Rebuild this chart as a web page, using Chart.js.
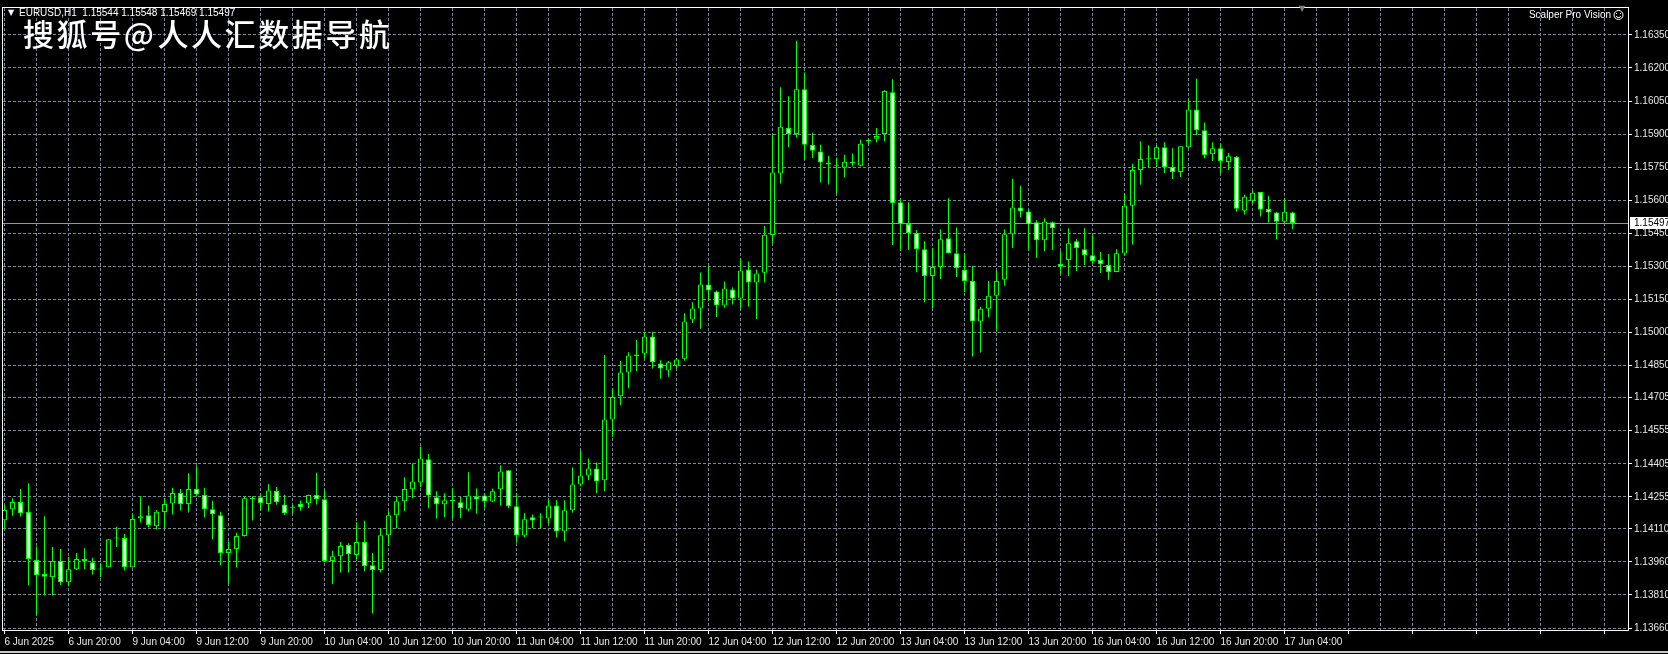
<!DOCTYPE html>
<html>
<head>
<meta charset="utf-8">
<script src="https://cdn.jsdelivr.net/npm/chart.js@4.4.1/dist/chart.umd.min.js"></script>
<style>
  html, body { margin: 0; padding: 0; background: #000; }
  canvas { display: block; }
</style>
</head>
<body>
<canvas id="chart" width="1668" height="654"></canvas>
<script>
// header texts
const symbolTitle = 'EURUSD,H1  1.15544 1.15548 1.15469 1.15497';
const watermark = '搜狐号@人人汇数据导航';
const indicatorName = 'Scalper Pro Vision';
const lastPrice = 1.15497;

// x labels, one every 8 bars (H1)
const timeLabels = ['6 Jun 2025', '6 Jun 20:00', '9 Jun 04:00', '9 Jun 12:00', '9 Jun 20:00',
  '10 Jun 04:00', '10 Jun 12:00', '10 Jun 20:00', '11 Jun 04:00', '11 Jun 12:00', '11 Jun 20:00',
  '12 Jun 04:00', '12 Jun 12:00', '12 Jun 20:00', '13 Jun 04:00', '13 Jun 12:00', '13 Jun 20:00',
  '16 Jun 04:00', '16 Jun 12:00', '16 Jun 20:00', '17 Jun 04:00'];

// price scale labels
const priceTicks = [1.13660, 1.13810, 1.13960, 1.14110, 1.14255, 1.14405, 1.14555, 1.14705,
  1.14850, 1.15000, 1.15150, 1.15300, 1.15450, 1.15600, 1.15750, 1.15900, 1.16050, 1.16200, 1.16350];

// OHLC
const opens = [
  1.14149, 1.14199, 1.14231, 1.14186, 1.13968, 1.13905, 1.13891, 1.13964, 1.13868, 1.13926,
  1.13973, 1.13958, 1.13928, 1.13936, 1.14066, 1.14068, 1.13936, 1.14157, 1.14172, 1.14121,
  1.14186, 1.14225, 1.14272, 1.14222, 1.14290, 1.14263, 1.14199, 1.14172, 1.14000, 1.14018,
  1.14077, 1.14247, 1.14253, 1.14222, 1.14281, 1.14220, 1.14208, 1.14222, 1.14226, 1.14263,
  1.14244, 1.13964, 1.13986, 1.14036, 1.13991, 1.14050, 1.13945, 1.13923, 1.14081, 1.14172,
  1.14235, 1.14289, 1.14320, 1.14425, 1.14253, 1.14221, 1.14238, 1.14230, 1.14198, 1.14257,
  1.14261, 1.14234, 1.14289, 1.14375, 1.14212, 1.14080, 1.14162, 1.14161, 1.14157, 1.14216,
  1.14098, 1.14194, 1.14311, 1.14352, 1.14384, 1.14330, 1.14606, 1.14711, 1.14819, 1.14893,
  1.14905, 1.14982, 1.14860, 1.14828, 1.14851, 1.14881, 1.15059, 1.15109, 1.15218, 1.15186,
  1.15123, 1.15195, 1.15155, 1.15286, 1.15227, 1.15271, 1.15443, 1.15721, 1.15929, 1.15901,
  1.16104, 1.15852, 1.15821, 1.15771, 1.15758, 1.15748, 1.15775, 1.15757, 1.15874, 1.15879,
  1.15901, 1.16090, 1.15591, 1.15492, 1.15451, 1.15378, 1.15257, 1.15297, 1.15428, 1.15360,
  1.15284, 1.15234, 1.15050, 1.15108, 1.15167, 1.15239, 1.15446, 1.15567, 1.15549, 1.15500,
  1.15419, 1.15500, 1.15311, 1.15329, 1.15414, 1.15378, 1.15351, 1.15329, 1.15306, 1.15275,
  1.15358, 1.15575, 1.15737, 1.15786, 1.15787, 1.15841, 1.15751, 1.15728, 1.15841, 1.16012,
  1.15917, 1.15809, 1.15836, 1.15773, 1.15796, 1.15553, 1.15598, 1.15638, 1.15562, 1.15544,
  1.15503, 1.15544];
const highs = [
  1.14219, 1.14249, 1.14290, 1.14317, 1.14030, 1.14167, 1.14027, 1.14018, 1.13982, 1.14000,
  1.14022, 1.13979, 1.13950, 1.14064, 1.14119, 1.14086, 1.14176, 1.14258, 1.14214, 1.14195,
  1.14247, 1.14296, 1.14290, 1.14362, 1.14394, 1.14296, 1.14237, 1.14187, 1.14053, 1.14092,
  1.14258, 1.14258, 1.14267, 1.14312, 1.14299, 1.14264, 1.14219, 1.14238, 1.14264, 1.14364,
  1.14287, 1.14010, 1.14050, 1.14045, 1.14140, 1.14146, 1.14000, 1.14113, 1.14190, 1.14258,
  1.14344, 1.14406, 1.14483, 1.14449, 1.14280, 1.14271, 1.14293, 1.14255, 1.14366, 1.14293,
  1.14271, 1.14293, 1.14397, 1.14377, 1.14271, 1.14180, 1.14175, 1.14180, 1.14243, 1.14239,
  1.14239, 1.14388, 1.14465, 1.14429, 1.14411, 1.14898, 1.14745, 1.14871, 1.14911, 1.14966,
  1.15004, 1.15004, 1.14874, 1.14871, 1.14884, 1.15088, 1.15138, 1.15272, 1.15302, 1.15191,
  1.15232, 1.15204, 1.15336, 1.15322, 1.15286, 1.15483, 1.15897, 1.16113, 1.16072, 1.16324,
  1.16180, 1.15906, 1.15852, 1.15802, 1.15793, 1.15807, 1.15812, 1.15874, 1.15879, 1.15928,
  1.16099, 1.16149, 1.15604, 1.15591, 1.15465, 1.15414, 1.15383, 1.15468, 1.15609, 1.15477,
  1.15360, 1.15302, 1.15117, 1.15234, 1.15279, 1.15468, 1.15698, 1.15666, 1.15559, 1.15509,
  1.15518, 1.15504, 1.15369, 1.15473, 1.15423, 1.15473, 1.15446, 1.15365, 1.15356, 1.15378,
  1.15631, 1.15766, 1.15868, 1.15850, 1.15850, 1.15863, 1.15836, 1.15845, 1.16057, 1.16151,
  1.15953, 1.15863, 1.15854, 1.15814, 1.15801, 1.15625, 1.15643, 1.15638, 1.15620, 1.15548,
  1.15607, 1.15548];
const lows = [
  1.14109, 1.14169, 1.14166, 1.13853, 1.13719, 1.13808, 1.13808, 1.13855, 1.13849, 1.13923,
  1.13926, 1.13903, 1.13890, 1.13934, 1.14028, 1.13921, 1.13935, 1.14139, 1.14116, 1.14107,
  1.14112, 1.14175, 1.14193, 1.14184, 1.14257, 1.14161, 1.14062, 1.13944, 1.13859, 1.13935,
  1.14075, 1.14148, 1.14192, 1.14189, 1.14219, 1.14173, 1.14181, 1.14192, 1.14204, 1.14220,
  1.13958, 1.13859, 1.13912, 1.13912, 1.13973, 1.13918, 1.13726, 1.13912, 1.14032, 1.14112,
  1.14190, 1.14248, 1.14298, 1.14203, 1.14157, 1.14162, 1.14157, 1.14159, 1.14189, 1.14178,
  1.14206, 1.14230, 1.14215, 1.14203, 1.14048, 1.14071, 1.14112, 1.14112, 1.14130, 1.14070,
  1.14052, 1.14183, 1.14302, 1.14330, 1.14271, 1.14280, 1.14528, 1.14670, 1.14747, 1.14824,
  1.14881, 1.14837, 1.14791, 1.14800, 1.14836, 1.14872, 1.15043, 1.15017, 1.15145, 1.15071,
  1.15112, 1.15127, 1.15109, 1.15117, 1.15062, 1.15227, 1.15405, 1.15676, 1.15841, 1.15883,
  1.15784, 1.15792, 1.15681, 1.15672, 1.15631, 1.15703, 1.15753, 1.15753, 1.15852, 1.15863,
  1.15866, 1.15397, 1.15370, 1.15375, 1.15274, 1.15138, 1.15111, 1.15243, 1.15358, 1.15252,
  1.15183, 1.14891, 1.14910, 1.15068, 1.15005, 1.15212, 1.15383, 1.15522, 1.15374, 1.15338,
  1.15369, 1.15374, 1.15266, 1.15257, 1.15279, 1.15306, 1.15311, 1.15270, 1.15239, 1.15273,
  1.15348, 1.15398, 1.15670, 1.15751, 1.15751, 1.15724, 1.15697, 1.15706, 1.15837, 1.15895,
  1.15791, 1.15778, 1.15724, 1.15737, 1.15548, 1.15535, 1.15584, 1.15526, 1.15499, 1.15422,
  1.15494, 1.15469];
const closes = [
  1.14195, 1.14231, 1.14181, 1.13973, 1.13900, 1.13893, 1.13964, 1.13868, 1.13927, 1.13973,
  1.13964, 1.13923, 1.13925, 1.14063, 1.14069, 1.13936, 1.14154, 1.14167, 1.14127, 1.14187,
  1.14222, 1.14272, 1.14222, 1.14290, 1.14266, 1.14199, 1.14176, 1.14000, 1.14018, 1.14077,
  1.14249, 1.14245, 1.14226, 1.14284, 1.14231, 1.14181, 1.14206, 1.14208, 1.14263, 1.14244,
  1.13964, 1.13986, 1.14032, 1.13995, 1.14050, 1.13941, 1.13923, 1.14081, 1.14172, 1.14235,
  1.14290, 1.14325, 1.14429, 1.14261, 1.14221, 1.14239, 1.14236, 1.14203, 1.14261, 1.14243,
  1.14234, 1.14280, 1.14370, 1.14212, 1.14080, 1.14153, 1.14148, 1.14163, 1.14216, 1.14098,
  1.14194, 1.14311, 1.14352, 1.14384, 1.14325, 1.14606, 1.14708, 1.14819, 1.14896, 1.14900,
  1.14982, 1.14865, 1.14837, 1.14865, 1.14878, 1.15050, 1.15109, 1.15218, 1.15191, 1.15123,
  1.15200, 1.15155, 1.15281, 1.15227, 1.15268, 1.15444, 1.15726, 1.15933, 1.15901, 1.16104,
  1.15852, 1.15825, 1.15771, 1.15762, 1.15756, 1.15775, 1.15767, 1.15856, 1.15866, 1.15892,
  1.16095, 1.15586, 1.15492, 1.15451, 1.15379, 1.15257, 1.15297, 1.15423, 1.15360, 1.15293,
  1.15234, 1.15050, 1.15108, 1.15167, 1.15234, 1.15446, 1.15567, 1.15549, 1.15491, 1.15419,
  1.15504, 1.15473, 1.15298, 1.15405, 1.15383, 1.15351, 1.15324, 1.15311, 1.15275, 1.15360,
  1.15575, 1.15737, 1.15787, 1.15788, 1.15841, 1.15751, 1.15728, 1.15845, 1.16012, 1.15917,
  1.15805, 1.15836, 1.15778, 1.15800, 1.15562, 1.15616, 1.15634, 1.15557, 1.15544, 1.15503,
  1.15548, 1.15497];

const lime = '#00ff00';
const gridColor = '#7a8899';
const labelFont = { family: 'Liberation Sans', size: 10 };

const wickData = lows.map((lo, i) => ({ x: i, y: [lo, highs[i]] }));
const bodyData = opens.map((o, i) => ({ x: i, y: [o, closes[i]] }));
const bodyFill = opens.map((o, i) => (closes[i] < o ? '#ffffff' : '#000000'));

const mt4Decor = {
  id: 'mt4Decor',
  beforeDraw(chart) {
    const ctx = chart.ctx;
    ctx.save();
    ctx.fillStyle = '#000';
    ctx.fillRect(0, 0, chart.width, chart.height);
    ctx.restore();
  },
  beforeDatasetsDraw(chart) {
    const { ctx, chartArea, scales } = chart;
    const y = Math.round(scales.y.getPixelForValue(lastPrice)) + 0.5;
    ctx.save();
    ctx.strokeStyle = '#8c98a4';
    ctx.lineWidth = 1;
    ctx.beginPath();
    ctx.moveTo(chartArea.left, y);
    ctx.lineTo(chartArea.right, y);
    ctx.stroke();
    ctx.restore();
  },
  afterDraw(chart) {
    const { ctx, chartArea, scales } = chart;
    ctx.save();
    // white frame round the plot
    ctx.strokeStyle = '#ffffff';
    ctx.lineWidth = 1;
    ctx.strokeRect(chartArea.left - 0.5, chartArea.top - 0.5,
      chartArea.right - chartArea.left + 1, chartArea.bottom - chartArea.top + 1);

    // last price box on the scale
    const py = Math.round(scales.y.getPixelForValue(lastPrice));
    ctx.fillStyle = '#ffffff';
    ctx.fillRect(chartArea.right + 2, py - 6, 38, 12);
    ctx.fillStyle = '#000000';
    ctx.font = '10px "Liberation Sans"';
    ctx.textBaseline = 'middle';
    ctx.textAlign = 'left';
    ctx.fillText(lastPrice.toFixed(5), chartArea.right + 6, py);

    // symbol line
    ctx.fillStyle = '#ffffff';
    ctx.font = '8px "DejaVu Sans"';
    ctx.fillText('▼', 8, 13);
    ctx.font = '10px "Liberation Sans"';
    ctx.fillText(symbolTitle, 19, 13);

    // indicator name, top right
    ctx.textAlign = 'right';
    ctx.fillText(indicatorName, 1611, 15);
    ctx.beginPath();
    ctx.arc(1618.5, 15, 4.5, 0, Math.PI * 2);
    ctx.strokeStyle = '#ffffff';
    ctx.stroke();
    ctx.fillRect(1616, 13, 1, 1);
    ctx.fillRect(1620, 13, 1, 1);
    ctx.beginPath();
    ctx.arc(1618.5, 15.5, 2.2, 0.2, Math.PI - 0.2);
    ctx.stroke();

    // shift marker
    ctx.fillStyle = '#808080';
    ctx.textAlign = 'center';
    ctx.font = '8px "DejaVu Sans"';
    ctx.fillText('▼', 1302, 9);

    // big caption
    ctx.fillStyle = '#ffffff';
    ctx.textAlign = 'left';
    ctx.font = '500 31px "Noto Sans CJK SC"';
    Array.from(watermark).forEach((ch, k) => {
      ctx.fillText(ch, 23 + k * 33.6, 34);
    });

    // bottom strip
    ctx.fillStyle = '#c8c8c8';
    ctx.fillRect(0, 651, chart.width, 2);
    ctx.restore();
  }
};

new Chart(document.getElementById('chart'), {
  type: 'bar',
  data: {
    datasets: [
      {
        label: 'body',
        data: bodyData,
        backgroundColor: bodyFill,
        borderColor: lime,
        borderWidth: 1,
        borderSkipped: false,
        barThickness: 5,
        minBarLength: 1,
        inflateAmount: 0,
        grouped: false,
        order: 0
      },
      {
        label: 'wick',
        data: wickData,
        backgroundColor: lime,
        borderWidth: 0,
        barThickness: 1,
        minBarLength: 1,
        inflateAmount: 0,
        grouped: false,
        order: 1
      }
    ]
  },
  options: {
    responsive: false,
    devicePixelRatio: 1,
    animation: false,
    layout: { padding: { left: 3, top: 5, right: 0, bottom: 0 } },
    plugins: { legend: { display: false }, tooltip: { enabled: false } },
    scales: {
      x: {
        type: 'linear',
        offset: false,
        min: -0.1875,
        max: 202.9375,
        afterFit: (scale) => { scale.height = 24; },
        afterBuildTicks: (scale) => {
          const t = [];
          for (let v = 0; v <= 200; v += 4) t.push({ value: v });
          scale.ticks = t;
        },
        border: { display: false, dash: [3, 2] },
        grid: {
          offset: false,
          color: gridColor,
          lineWidth: 1,
          tickLength: 4,
          tickColor: (c) => (c.tick && c.tick.value % 8 === 0 ? '#ffffff' : 'rgba(0,0,0,0)')
        },
        ticks: {
          autoSkip: false,
          maxRotation: 0,
          align: 'start',
          padding: 2,
          color: '#e8e8e8',
          font: labelFont,
          callback: (v) => (v % 8 === 0 && timeLabels[v / 8] ? timeLabels[v / 8] : '')
        }
      },
      y: {
        position: 'right',
        min: 1.13651,
        max: 1.16472,
        afterFit: (scale) => { scale.width = 40; },
        afterBuildTicks: (scale) => {
          scale.ticks = priceTicks.map((v) => ({ value: v }));
        },
        border: { display: false, dash: [3, 2] },
        grid: {
          color: gridColor,
          lineWidth: 1,
          tickLength: 4,
          tickColor: '#ffffff'
        },
        ticks: {
          padding: 2,
          color: '#e8e8e8',
          font: labelFont,
          callback: (v) => v.toFixed(5)
        }
      }
    }
  },
  plugins: [mt4Decor]
});
</script>
</body>
</html>
